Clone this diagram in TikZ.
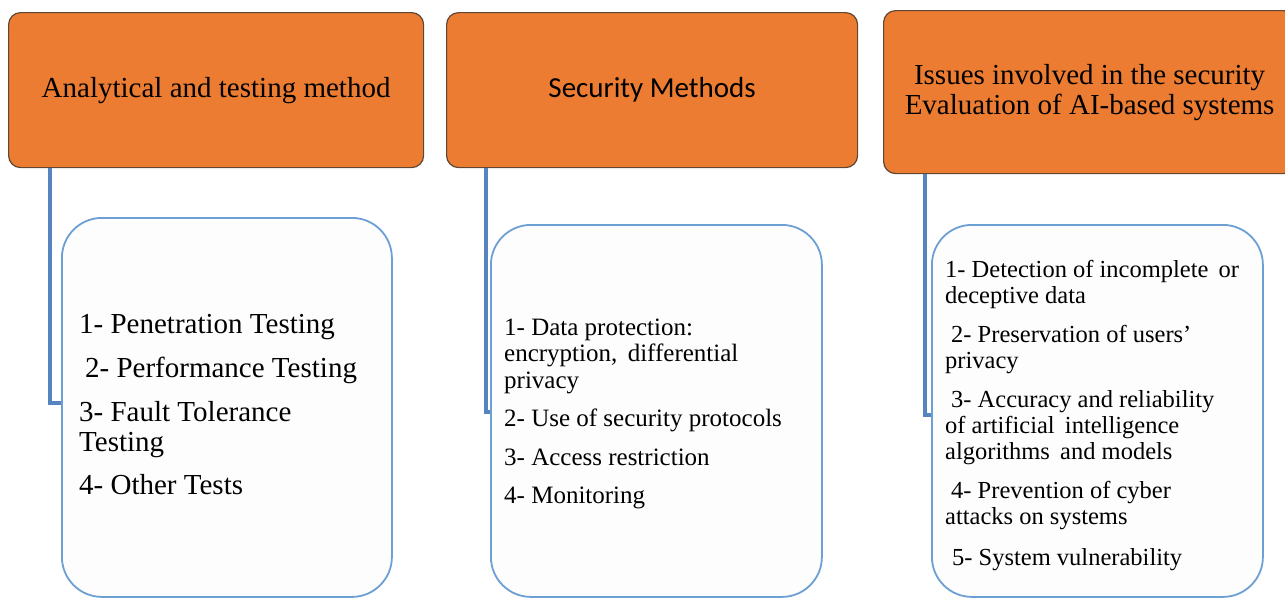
\documentclass[tikz,border=0pt]{standalone}
\usepackage{fontspec}
\setmainfont{Liberation Serif}
\newfontfamily\headsans{Carlito}
\definecolor{headfill}{HTML}{EC7C31}
\definecolor{headline}{HTML}{5E4632}
\definecolor{boxline}{HTML}{6C9FD3}
\definecolor{boxfill}{HTML}{FDFDFD}
\definecolor{connline}{HTML}{5584BF}
\tikzset{
  head/.style={draw=headline, fill=headfill, line width=1.2pt, rounded corners=12pt,
    anchor=north west, inner sep=0pt, align=center, text=black},
  listbox/.style={draw=boxline, fill=boxfill, line width=1.8pt, rounded corners=40pt,
    anchor=north west, inner sep=0pt},
  listtext/.style={anchor=base west, inner sep=0pt, text=black},
  conn/.style={draw=connline, line width=3.2pt, line join=miter}
}
\begin{document}
\begin{tikzpicture}[x=1pt,y=-1pt]
\useasboundingbox (0,0) rectangle (1285,598);
\clip (0,0) rectangle (1285,598);

% column headers
\node[head, minimum width=415pt, minimum height=155pt, font=\fontsize{29}{30}\selectfont]
  (h1) at (8,12) {Analytical and testing method};
\node[head, minimum width=411pt, minimum height=155pt, font=\headsans\fontsize{29}{30}\selectfont]
  (h2) at (446,12) {Security Methods};
\node[head, minimum width=412pt, minimum height=163pt, font=\fontsize{29}{30}\selectfont]
  (h3) at (883,10) {Issues involved in the security\\Evaluation of AI-based systems};

% list boxes
\node[listbox, minimum width=330pt, minimum height=379pt] (b1) at (61,217) {};
\node[listbox, minimum width=331pt, minimum height=372pt] (b2) at (490,224) {};
\node[listbox, minimum width=331pt, minimum height=372pt] (b3) at (931,224) {};

% list texts
\node[listtext] (t1) at (79,333) {\begin{minipage}[t]{300pt}\fontsize{29}{30}\selectfont
1- Penetration Testing\\[14pt]
\hspace*{6pt}2- Performance Testing\\[14pt]
3- Fault Tolerance\\
Testing\\[13pt]
4- Other Tests
\end{minipage}};

\node[listtext] (t2) at (504,335) {\begin{minipage}[t]{300pt}\fontsize{25}{26.5}\selectfont
1- Data protection:\\
encryption,\, differential\\
privacy\\[12pt]
2- Use of security protocols\\[12pt]
3- Access restriction\\[12pt]
4- Monitoring
\end{minipage}};

\node[listtext] (t3) at (945,277) {\begin{minipage}[t]{300pt}\fontsize{24.5}{26}\selectfont
1- Detection of incomplete\, or\\
deceptive data\\[13pt]
\hspace*{6pt}2- Preservation of users{\char"0027}\\
privacy\\[13pt]
\hspace*{6pt}3- Accuracy and reliability\\
of artificial\, intelligence\\
algorithms\, and models\\[13pt]
\hspace*{6pt}4- Prevention of cyber\\
attacks on systems\\[15pt]
\hspace*{7pt}5- System vulnerability
\end{minipage}};

% elbow connectors from headers to their boxes
\coordinate (j1) at (50,403);
\coordinate (j2) at (486,412);
\coordinate (j3) at (925,415);
\draw[conn] (h1.south -| j1) |- (b1.west |- j1);
\draw[conn] (h2.south -| j2) |- (b2.west |- j2);
\draw[conn] (h3.south -| j3) |- (b3.west |- j3);
\end{tikzpicture}
\end{document}
